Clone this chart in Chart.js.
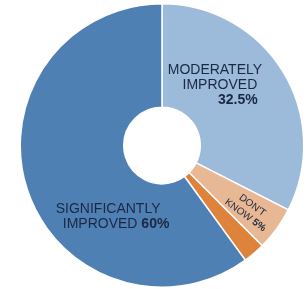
<!DOCTYPE html>
<html><head><meta charset="utf-8">
<script src="https://cdn.jsdelivr.net/npm/chart.js@4"></script>
<style>html,body{margin:0;padding:0;background:#fff;}#wrap{width:308px;height:289px;}</style>
</head><body><div id="wrap"><canvas id="c"></canvas></div>
<script>
const categories = ["MODERATELY IMPROVED", "DON'T KNOW", "OTHER", "SIGNIFICANTLY IMPROVED"];
const values = [32.5, 5, 2.5, 60];
const valueLabels = ["32.5%", "5%", "", "60%"];
const colors = ["#9cbad9", "#e8b793", "#de833b", "#4f80b4"];

const TXT = "#1b2843";
const FONT = '"Liberation Sans", Arial, sans-serif';

function drawMixed(ctx, x, y, parts, size) {
  // parts: [[text,bold],...], centered at x
  let total = 0;
  const w = parts.map(p => { ctx.font = (p[1] ? 'bold ' : '') + size + 'px ' + FONT; const m = ctx.measureText(p[0]).width; total += m; return m; });
  let cx = x - total / 2;
  ctx.textAlign = 'left';
  parts.forEach((p, i) => { ctx.font = (p[1] ? 'bold ' : '') + size + 'px ' + FONT; ctx.fillText(p[0], cx, y); cx += w[i]; });
}

const labelPlugin = {
  id: 'labels',
  afterDatasetsDraw(chart) {
    const ctx = chart.ctx;
    const arcs = chart.getDatasetMeta(0).data;
    const cx = arcs[0].x, cy = arcs[0].y, R = arcs[0].outerRadius;
    const s = R / 142;
    ctx.save();
    ctx.fillStyle = TXT;
    ctx.textBaseline = 'middle';
    // Moderately improved
    drawMixed(ctx, cx + 53 * s, cy - 75 * s, [["MODERATELY", false]], 14);
    drawMixed(ctx, cx + 58 * s, cy - 60 * s, [["IMPROVED", false]], 14);
    drawMixed(ctx, cx + 76 * s, cy - 45 * s, [[valueLabels[0], true]], 14);
    // Significantly improved
    drawMixed(ctx, cx - 54 * s, cy + 64 * s, [["SIGNIFICANTLY", false]], 14);
    drawMixed(ctx, cx - 46 * s, cy + 79 * s, [["IMPROVED ", false], [valueLabels[3], true]], 14);
    // Don't know (rotated along radial direction)
    const mid = (arcs[1].startAngle + arcs[1].endAngle) / 2;
    ctx.translate(cx + 87 * s, cy + 65 * s);
    ctx.rotate(mid);
    drawMixed(ctx, 0, -6, [["DON'T", false]], 10);
    drawMixed(ctx, 0, 6, [["KNOW ", false], [valueLabels[1], true]], 10);
    ctx.restore();
  }
};

new Chart(document.getElementById('c'), {
  type: 'doughnut',
  data: {
    labels: categories,
    datasets: [{
      data: values,
      backgroundColor: colors,
      borderColor: '#ffffff',
      borderWidth: 1.5,
      hoverOffset: 0
    }]
  },
  options: {
    responsive: true,
    maintainAspectRatio: false,
    animation: false,
    cutout: '27%',
    layout: { padding: { left: 16, right: 0, top: 3, bottom: 1 } },
    plugins: { legend: { display: false }, tooltip: { enabled: false } }
  },
  plugins: [labelPlugin]
});
</script>
</body></html>
